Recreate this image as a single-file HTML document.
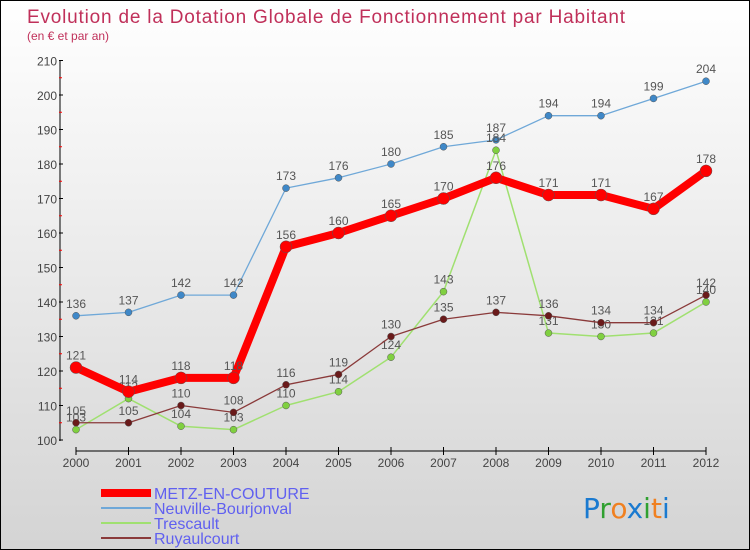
<!DOCTYPE html>
<html><head><meta charset="utf-8"><style>
body{margin:0}
#c{width:748px;height:548px;border:1px solid #000;background:linear-gradient(#fff,#d4d4d4);position:relative;font-family:"Liberation Sans","DejaVu Sans",sans-serif;overflow:hidden}
</style></head><body>
<div id="c">
<svg id="s" width="748" height="548"></svg>
</div>
<script>
const years=[2000,2001,2002,2003,2004,2005,2006,2007,2008,2009,2010,2011,2012];
const metz=[121,114,118,118,156,160,165,170,176,171,171,167,178];
const neuville=[136,137,142,142,173,176,180,185,187,194,194,199,204];
const trescault=[103,112,104,103,110,114,124,143,184,131,130,131,140];
const ruyaulcourt=[105,105,110,108,116,119,130,135,137,136,134,134,142];
const yTicks=[100,110,120,130,140,150,160,170,180,190,200,210];
const svg=document.getElementById('s');const NS='http://www.w3.org/2000/svg';
const X=i=>75+i*52.5, Y=v=>439-(v-100)*3.45;
function mk(t,a,p){const e=document.createElementNS(NS,t);for(const k in a)e.setAttribute(k,a[k]);(p||svg).appendChild(e);return e;}
function txt(x,y,s,a){const e=mk('text',Object.assign({x:x,y:y},a));e.textContent=s;return e;}
let t=txt(26,22,'Evolution de la Dotation Globale de Fonctionnement par Habitant',{fill:'#c0305a','font-size':19,textLength:598});

t=txt(26,39,'(en € et par an)',{fill:'#c0305a','font-size':12});

let ax=mk('line',{x1:59,y1:60,x2:59,y2:440,stroke:'#000'});
yTicks.forEach((v,i)=>{mk('line',{x1:58,x2:62,y1:Y(v),y2:Y(v),stroke:'#000'});
 if(i<yTicks.length-1)mk('line',{x1:58,x2:61,y1:Y(v+5),y2:Y(v+5),stroke:'#f00'});
 let l=txt(56,Y(v)+5,v,{'text-anchor':'end','font-size':12,fill:'#444'});});
ax=mk('line',{x1:X(0),y1:450,x2:X(12),y2:450,stroke:'#000'});
years.forEach((y,i)=>{mk('line',{x1:X(i),x2:X(i),y1:446,y2:454,stroke:'#000'});
 let l=txt(X(i),466,y,{'text-anchor':'middle','font-size':12,fill:'#444'});});
function series(d,col,w,r,pc,name){const g=mk('g',{});
 const p=mk('polyline',{points:d.map((v,i)=>X(i)+','+Y(v)).join(' '),fill:'none',stroke:col,'stroke-width':w,'stroke-linejoin':'round'},g);
 
 d.forEach((v,i)=>{const c=mk('circle',{cx:X(i),cy:Y(v),r:r,fill:pc,stroke:'#555','stroke-width':0.5},g);
  const l=txt(X(i),Y(v)-8,v,{'text-anchor':'middle','font-size':12,fill:'#555'},g);});}
series(neuville,'#6fa8d8',1.3,3.5,'#3f88c8','neuville');
series(trescault,'#a0e070',1.5,3.5,'#80d040','trescault');
series(ruyaulcourt,'#8a3a3a',1.3,3.5,'#6a1a1a','ruyaulcourt');
series(metz,'#f00',8,6,'#f00','metz');
const leg=[['METZ-EN-COUTURE','#f00',8,492],['Neuville-Bourjonval','#6fa8d8',2,507],['Trescault','#a0e070',2,522],['Ruyaulcourt','#8a3a3a',2,537]];
leg.forEach(L=>{const g=mk('g',{});
 mk('line',{x1:100,x2:150,y1:L[3],y2:L[3],stroke:L[1],'stroke-width':L[2]},g);
 txt(153,L[3]+6,L[0],{fill:'#6060f0','font-size':16},g);});
const lg=mk('text',{x:582,y:517,'font-size':28,'font-family':'"DejaVu Sans",sans-serif'});
[['P','#1a7ad0'],['r','#30a030'],['o','#f08020'],['x','#1a7ad0'],['i','#30a030'],['t','#f08020'],['i','#1a7ad0']].forEach(a=>{const s=mk('tspan',{fill:a[1]},lg);s.textContent=a[0];});
</script>
</body></html>
